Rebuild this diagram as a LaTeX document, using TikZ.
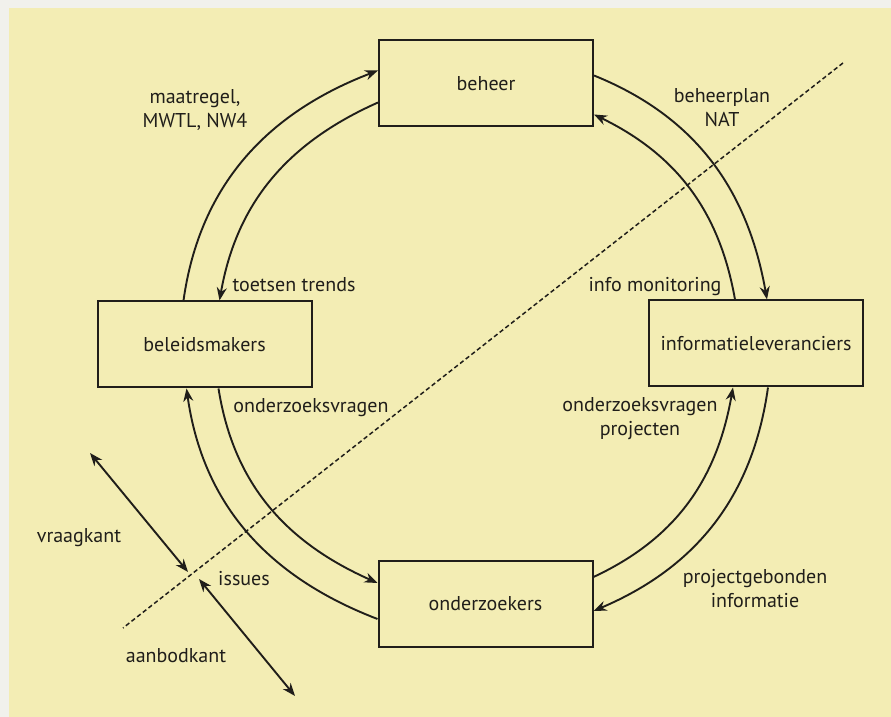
\documentclass[tikz,border=0pt]{standalone}
\usepackage{fontspec}
\setmainfont{PT Sans}
\usetikzlibrary{arrows.meta, positioning, calc}
\definecolor{PaperFill}{HTML}{F3EDB4}
\definecolor{MarginFill}{HTML}{F1F1EC}
\definecolor{InkLine}{HTML}{201E1A}

\begin{document}
\begin{tikzpicture}[
    x=0.5pt, y=0.5pt,
    actor/.style={
        rectangle, draw=InkLine, line width=1pt,
        minimum width=107pt, minimum height=43pt,
        font=\fontsize{10}{12}\selectfont, text=InkLine, inner sep=0pt
    },
    lbl/.style={font=\fontsize{10}{12}\selectfont, text=InkLine,
        align=center, inner sep=0pt},
    flow/.style={-{Stealth[length=6.5pt, width=5pt]}, line width=0.95pt, InkLine},
    side/.style={{Stealth[length=6.5pt, width=5pt]}-{Stealth[length=6.5pt, width=5pt]},
        line width=0.95pt, InkLine},
    border/.style={dash pattern=on 2.2pt off 1.4pt, line width=0.75pt, InkLine}
]

% ===================================================================
% PAPER
% ===================================================================
\useasboundingbox (0,0) rectangle (891,717);
\fill[MarginFill] (0,0) rectangle (891,717);
\fill[PaperFill] (9,0) rectangle (891,709);

% ===================================================================
% ACTORS
% ===================================================================
\node[actor] (beheer)        at (486,633.5) {beheer};
\node[actor] (beleidsmakers) at (204.5,372.5) {beleidsmakers};
\node[actor] (info)          at (756,373.5) {informatieleveranciers};
\node[actor] (onderzoekers)  at (485.5,113) {onderzoekers};

% ===================================================================
% CYCLE: beleidsmakers <-> beheer
% ===================================================================
\draw[flow] ($(beleidsmakers.north)+(-21,0)$) to[out=82, in=201]
    ($(beheer.west)+(0,13)$);
\draw[flow] ($(beheer.west)+(0,-19)$) to[out=204, in=80]
    ($(beleidsmakers.north)+(15,0)$);
\node[lbl] (lblmaatregel) at (195,607) {maatregel,\\MWTL, NW4};
\node[lbl] (lbltoetsen) at (294,432) {toetsen trends};

% ===================================================================
% CYCLE: beheer <-> informatieleveranciers
% ===================================================================
\draw[flow] ($(beheer.east)+(0,8)$) to[out=-22, in=100]
    ($(info.north)+(11,0)$);
\draw[flow] ($(info.north)+(-21,0)$) to[out=100, in=-26]
    ($(beheer.east)+(0,-31)$);
\node[lbl] (lblbeheerplan) at (722,609) {beheerplan\\NAT};
\node[lbl] (lblmonitoring) at (655,430) {info monitoring};

% ===================================================================
% CYCLE: informatieleveranciers <-> onderzoekers
% ===================================================================
\draw[flow] ($(onderzoekers.east)+(0,27)$) to[out=25, in=-100]
    ($(info.south)+(-23,0)$);
\draw[flow] ($(info.south)+(12,0)$) to[out=-98, in=23]
    ($(onderzoekers.east)+(0,-7)$);
\node[lbl] (lblprojecten) at (640,298) {onderzoeksvragen\\projecten};
\node[lbl] (lblprojectinfo) at (755,128) {projectgebonden\\informatie};

% ===================================================================
% CYCLE: onderzoekers <-> beleidsmakers
% ===================================================================
\draw[flow] ($(beleidsmakers.south)+(14,0)$) to[out=-81, in=156]
    ($(onderzoekers.west)+(0,21)$);
\draw[flow] ($(onderzoekers.west)+(0,-15)$) to[out=159, in=-82]
    ($(beleidsmakers.south)+(-18,0)$);
\node[lbl] (lblvragen) at (311,309) {onderzoeksvragen};
\node[lbl] (lblissues) at (244,138) {issues};

% ===================================================================
% DEMAND / SUPPLY SIDE
% ===================================================================
\coordinate (grenstop) at (843,654);
\coordinate (grensbodem) at (123,89);
\draw[border] (grenstop) -- (grensbodem);

\coordinate (vraagpunt) at (90,264);
\coordinate (vraaggrens) at (188,145);
\coordinate (aanbodgrens) at (199,138);
\coordinate (aanbodpunt) at (295,21);
\draw[side] (vraagpunt) -- (vraaggrens);
\draw[side] (aanbodgrens) -- (aanbodpunt);
\node[lbl] (lblvraag) at (79,179) {vraagkant};
\node[lbl] (lblaanbod) at (176,61) {aanbodkant};

\end{tikzpicture}
\end{document}
